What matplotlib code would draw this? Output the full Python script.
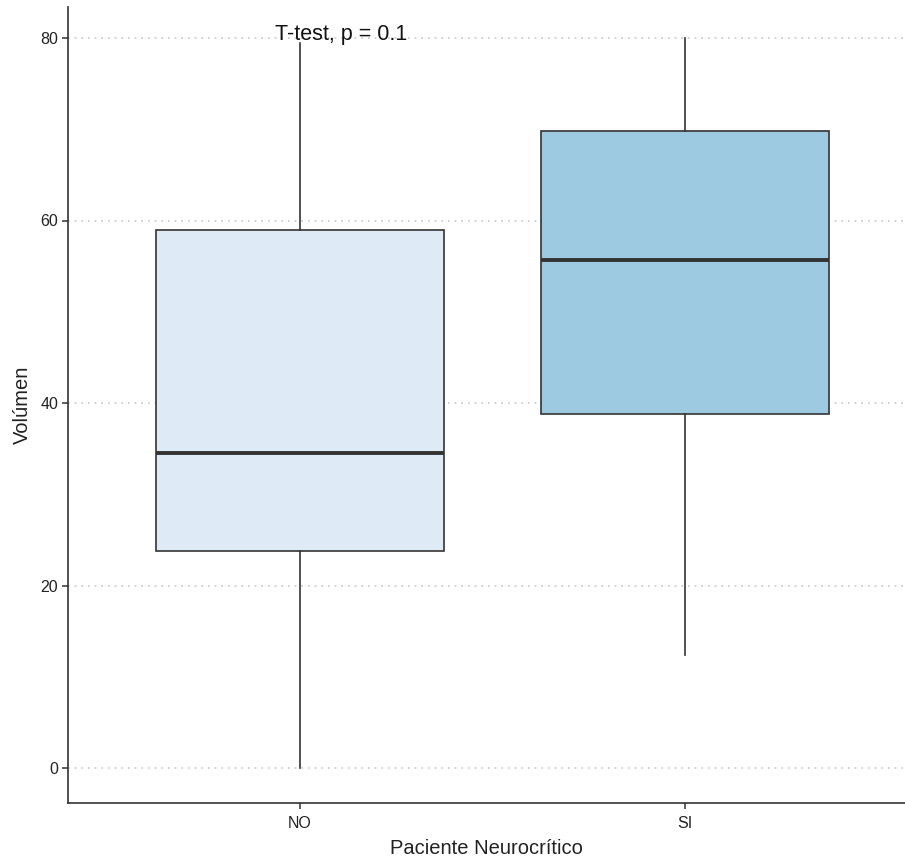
import matplotlib
matplotlib.use("Agg")
import matplotlib.pyplot as plt

plt.rcParams["font.family"] = ["Liberation Sans", "DejaVu Sans"]

groups = ["NO", "SI"]
whis_low = [0.0, 12.4]
q1 = [23.8, 38.8]
median = [34.5, 55.7]
q3 = [59.0, 69.8]
whis_high = [79.5, 80.0]
fills = ["#DEEBF7", "#9ECAE1"]
y_ticks = [0, 20, 40, 60, 80]
p_label = "T-test, p = 0.1"

W, H = 905, 858
fig = plt.figure(figsize=(W / 100, H / 100), dpi=100)
ax = fig.add_axes([68 / W, (H - 803) / H, (W - 68) / W, (803 - 7) / H])

EDGE = "#333333"
stats = [dict(whislo=lo, q1=a, med=m, q3=b, whishi=hi, label=g)
         for g, lo, a, m, b, hi in zip(groups, whis_low, q1, median, q3, whis_high)]
bp = ax.bxp(stats, positions=[1, 2], widths=0.75, patch_artist=True, showfliers=False,
            showcaps=False,
            boxprops=dict(edgecolor=EDGE, linewidth=1.2),
            whiskerprops=dict(color=EDGE, linewidth=1.2),
            medianprops=dict(color=EDGE, linewidth=2.8, solid_capstyle="butt"),
            zorder=3)
for patch, c in zip(bp["boxes"], fills):
    patch.set_facecolor(c)

# y range from pixel mapping (0 -> 768px, 80 -> 38px)
ppu = (768 - 38) / 80
ax.set_ylim(-(803 - 768) / ppu, (768 - 7) / ppu)
ax.set_xlim(1 - (300 - 68) / 385, 2 + (905 - 685) / 385)

ax.set_yticks(y_ticks)
for y in y_ticks:
    ax.axhline(y, color="#C8C8C8", linestyle=(0, (1, 3)), linewidth=1.2, zorder=1)

ax.set_xticks([1, 2])
ax.set_xticklabels(groups)
ax.spines["top"].set_visible(False)
ax.spines["right"].set_visible(False)
for s in ["left", "bottom"]:
    ax.spines[s].set_color("#333333")
    ax.spines[s].set_linewidth(1.2)
ax.tick_params(direction="out", length=4, width=1.1, color="#333333",
               labelsize=11.5, labelcolor="#222222")
ax.tick_params(axis="x", pad=5)
ax.tick_params(axis="y", pad=3)

ax.set_xlabel("Paciente Neurocrítico", fontsize=14.5, color="#222222", labelpad=6)
ax.set_ylabel("Volúmen", fontsize=14.5, color="#222222", labelpad=6)

ax.text(1.106, 79.8, p_label, ha="center", va="baseline", fontsize=15.5,
        color="#111111", zorder=4)

fig.savefig("out.png", dpi=100)
